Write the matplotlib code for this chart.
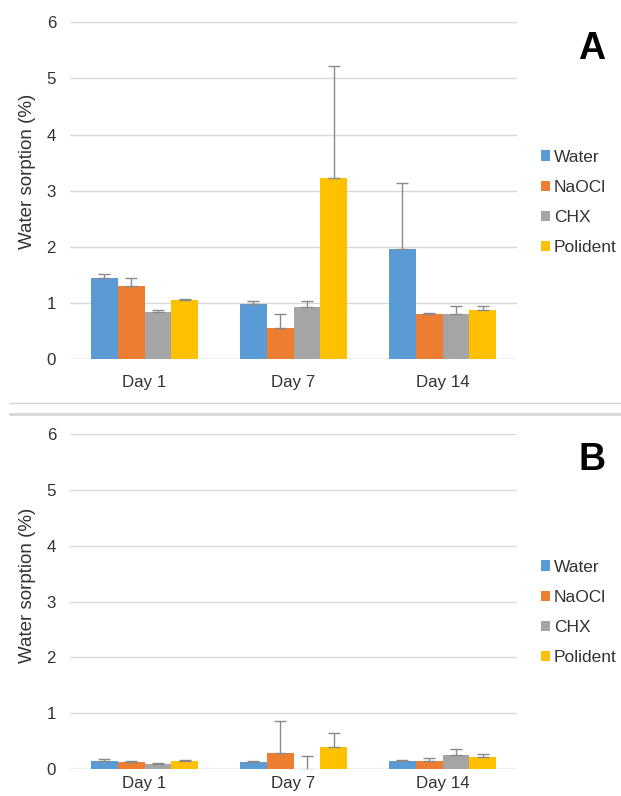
import matplotlib
matplotlib.use("Agg")
import numpy as np
import matplotlib.pyplot as plt
from matplotlib.lines import Line2D

plt.rcParams["font.family"] = ["Liberation Sans", "DejaVu Sans"]

days = ["Day 1", "Day 7", "Day 14"]
groups = ["Water", "NaOCl", "CHX", "Polident"]
colors = ["#5B9BD5", "#ED7D31", "#A5A5A5", "#FFC000"]

# panel A: means and upper error
a_water = [1.45, 0.98, 1.97]
a_naocl = [1.31, 0.55, 0.81]
a_chx = [0.84, 0.94, 0.81]
a_polident = [1.06, 3.23, 0.88]
a_water_err = [0.06, 0.05, 1.17]
a_naocl_err = [0.14, 0.26, 0.01]
a_chx_err = [0.04, 0.10, 0.14]
a_polident_err = [0.02, 2.00, 0.07]

# panel B
b_water = [0.15, 0.13, 0.14]
b_naocl = [0.13, 0.30, 0.14]
b_chx = [0.09, -0.02, 0.25]
b_polident = [0.14, 0.40, 0.22]
b_water_err = [0.04, 0.02, 0.03]
b_naocl_err = [0.02, 0.57, 0.07]
b_chx_err = [0.02, 0.26, 0.12]
b_polident_err = [0.03, 0.25, 0.05]

fig = plt.figure(figsize=(6.21, 7.96), dpi=100)

W, H = 621, 796
def box(l, t, r, b):
    return [l / W, 1 - b / H, (r - l) / W, (b - t) / H]

axA = fig.add_axes(box(70, 22.3, 517, 359.3))
axB = fig.add_axes(box(70, 433.7, 517, 769.3))

bw = 0.181
x = np.arange(len(days))
txt = "#333333"

def draw(ax, vals, errs, letter, letter_y, lab_y, leg_y, xpad):
    for i, (v, e) in enumerate(zip(vals, errs)):
        pos = x + (i - 1.5) * bw
        ax.bar(pos, v, bw, color=colors[i], label=groups[i], zorder=2)
        ax.errorbar(pos, v, yerr=[np.zeros(len(e)), e], fmt="none",
                    ecolor="#8a8a8a", elinewidth=1, capsize=4, capthick=1, zorder=3)
    ax.set_xlim(-0.5, 2.5)
    ax.set_ylim(0, 6)
    ax.set_yticks(range(7))
    ax.set_xticks(x)
    ax.set_xticklabels(days)
    ax.tick_params(length=0, labelsize=12.2, colors=txt)
    ax.tick_params(axis="x", pad=xpad)
    ax.tick_params(axis="y", pad=10)
    for s in ax.spines.values():
        s.set_visible(False)
    ax.grid(axis="y", color="#d9d9d9", linewidth=1, zorder=0)
    ax.set_axisbelow(True)
    ax.axhline(0, color="#d9d9d9", linewidth=1, zorder=1)
    fig.text(0.953, letter_y, letter, fontsize=27, fontweight="bold",
             ha="center", va="center")
    fig.text(0.0435, lab_y, "Water sorption (%)", rotation=90, fontsize=13.5,
             color=txt, ha="center", va="center")
    ax.legend(loc="center left", bbox_to_anchor=(0.871, leg_y), bbox_transform=fig.transFigure,
              frameon=False, fontsize=12.5, handlelength=0.55, handleheight=0.55,
              handletextpad=0.2, labelspacing=0.87, borderpad=0, borderaxespad=0,
              labelcolor=txt)

draw(axA, [a_water, a_naocl, a_chx, a_polident],
     [a_water_err, a_naocl_err, a_chx_err, a_polident_err], "A", 0.938, 0.785, 0.7456, 11)
draw(axB, [b_water, b_naocl, b_chx, b_polident],
     [b_water_err, b_naocl_err, b_chx_err, b_polident_err], "B", 0.422, 0.265, 0.2305, 5)

# panel separator lines
fig.add_artist(Line2D([10 / W, 1], [1 - 403 / H] * 2, color="#d0d0d0", linewidth=1))
fig.add_artist(Line2D([10 / W, 1], [1 - 414 / H] * 2, color="#d8d8d8", linewidth=2))

fig.savefig("out.png", dpi=100)
